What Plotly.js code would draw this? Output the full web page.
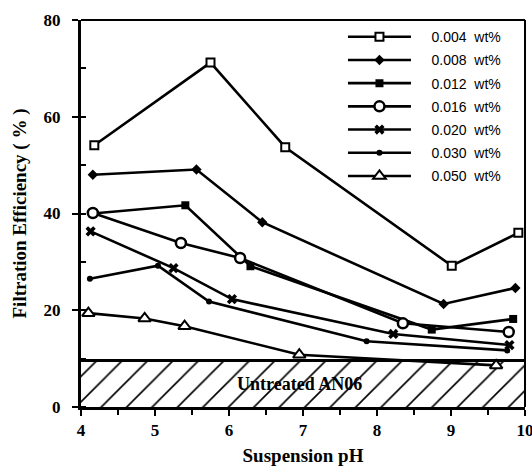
<!DOCTYPE html>
<html>
<head>
<meta charset="utf-8">
<script src="https://cdn.plot.ly/plotly-3.0.1.min.js"></script>
<style>html,body{margin:0;padding:0;background:#fff;}#chart{width:532px;height:468px;}</style>
</head>
<body>
<div id="chart"></div>
<script>
// Data
const seriesNames = ["0.004  wt%", "0.008  wt%", "0.012  wt%", "0.016  wt%", "0.020  wt%", "0.030  wt%", "0.050  wt%"];
const pH_004 = [4.18, 5.75, 6.76, 9.01, 9.91];
const eff_004 = [54.1, 71.2, 53.7, 29.2, 36.0];
const pH_008 = [4.16, 5.56, 6.45, 8.90, 9.87];
const eff_008 = [48.0, 49.1, 38.2, 21.3, 24.6];
const pH_012 = [4.16, 5.41, 6.29, 8.74, 9.84];
const eff_012 = [40.0, 41.7, 29.1, 16.0, 18.2];
const pH_016 = [4.16, 5.35, 6.15, 8.35, 9.78];
const eff_016 = [40.1, 33.9, 30.8, 17.3, 15.5];
const pH_020 = [4.13, 5.25, 6.04, 8.22, 9.79];
const eff_020 = [36.3, 28.7, 22.3, 15.1, 12.8];
const pH_030 = [4.12, 5.04, 5.73, 7.86, 9.76];
const eff_030 = [26.5, 29.2, 21.8, 13.6, 11.7];
const pH_050 = [4.10, 4.86, 5.40, 6.95, 9.61];
const eff_050 = [19.4, 18.3, 16.7, 10.8, 8.6];
const untreatedLevel = 9.6;
const untreatedRange = [4, 10];
const untreatedLabel = "Untreated AN06";

const NB = '\u00A0';
const legendLabel = s => NB.repeat(4) + s.replace(/ /g, NB);

const xs = [pH_004, pH_008, pH_012, pH_016, pH_020, pH_030, pH_050];
const ys = [eff_004, eff_008, eff_012, eff_016, eff_020, eff_030, eff_050];
const markers = [
  {symbol: 'square', size: 8, color: 'white', line: {color: 'black', width: 2}},
  {symbol: 'diamond', size: 8, color: 'black', line: {color: 'black', width: 0}},
  {symbol: 'square', size: 8, color: 'black', line: {color: 'black', width: 0}},
  {symbol: 'circle', size: 10, color: 'white', line: {color: 'black', width: 2.5}},
  {symbol: 'x', size: 9, color: 'black', line: {color: 'black', width: 0}},
  {symbol: 'circle', size: 6, color: 'black', line: {color: 'black', width: 0}},
  {symbol: 'triangle-up', size: 11, color: 'white', line: {color: 'black', width: 2}}
];

const serif = {family: '"Liberation Serif", "Times New Roman", serif', color: 'black', weight: 'bold'};

const traces = [{
  x: untreatedRange,
  y: [untreatedLevel, untreatedLevel],
  mode: 'lines',
  fill: 'tozeroy',
  fillcolor: 'white',
  fillpattern: {shape: '/', fgcolor: 'black', bgcolor: 'white', size: 18, solidity: 0.09},
  line: {color: 'black', width: 3},
  showlegend: false,
  hoverinfo: 'skip'
}];
for (let i = 0; i < seriesNames.length; i++) {
  traces.push({
    x: xs[i], y: ys[i],
    name: legendLabel(seriesNames[i]),
    legendgroup: 'g' + i,
    mode: 'lines+markers',
    line: {color: 'black', width: 2.6},
    marker: markers[i]
  });
}

const layout = {
  width: 532, height: 468,
  margin: {l: 81, r: 7, t: 20, b: 61},
  paper_bgcolor: 'white', plot_bgcolor: 'white',
  showlegend: true,
  legend: {
    x: 0.59, y: 0.997, xanchor: 'left', yanchor: 'top',
    bgcolor: 'rgba(0,0,0,0)', borderwidth: 0,
    font: {family: '"Liberation Sans", Arial, sans-serif', size: 14, color: 'black'},
    tracegroupgap: 2, itemwidth: 63
  },
  xaxis: {
    range: [4, 10], dtick: 1, tick0: 4,
    showgrid: false, zeroline: false,
    showline: true, linecolor: 'black', linewidth: 3,
    ticks: 'outside', ticklen: 6, tickwidth: 2, tickcolor: 'black',
    minor: {dtick: 0.5, ticks: 'outside', ticklen: 5, tickwidth: 2, tickcolor: 'black', showgrid: false},
    tickfont: Object.assign({size: 17}, serif),
    ticklabeloverflow: 'allow',
    title: {text: 'Suspension pH', font: Object.assign({size: 19}, serif), standoff: 10}
  },
  yaxis: {
    range: [0, 80], dtick: 20,
    showgrid: false, zeroline: false,
    showline: true, linecolor: 'black', linewidth: 3,
    ticks: 'outside', ticklen: 6, tickwidth: 2, tickcolor: 'black',
    minor: {dtick: 10, ticks: 'inside', ticklen: 5, tickwidth: 2, tickcolor: 'black', showgrid: false},
    tickfont: Object.assign({size: 17}, serif),
    ticklabelstandoff: 8,
    title: {text: 'Filtration Efficiency ( % )', font: Object.assign({size: 19}, serif), standoff: 12}
  },
  shapes: [
    {type: 'line', xref: 'paper', yref: 'paper', x0: 0, x1: 1, y0: 1, y1: 1, line: {color: 'black', width: 2}},
    {type: 'line', xref: 'paper', yref: 'paper', x0: 1, x1: 1, y0: 0, y1: 1, line: {color: 'black', width: 2}}
  ],
  annotations: [{
    x: 6.95, y: untreatedLevel / 2, xref: 'x', yref: 'y',
    text: untreatedLabel, showarrow: false,
    font: Object.assign({size: 18}, serif)
  }]
};

Plotly.newPlot('chart', traces, layout, {displayModeBar: false, staticPlot: true});
</script>
</body>
</html>
